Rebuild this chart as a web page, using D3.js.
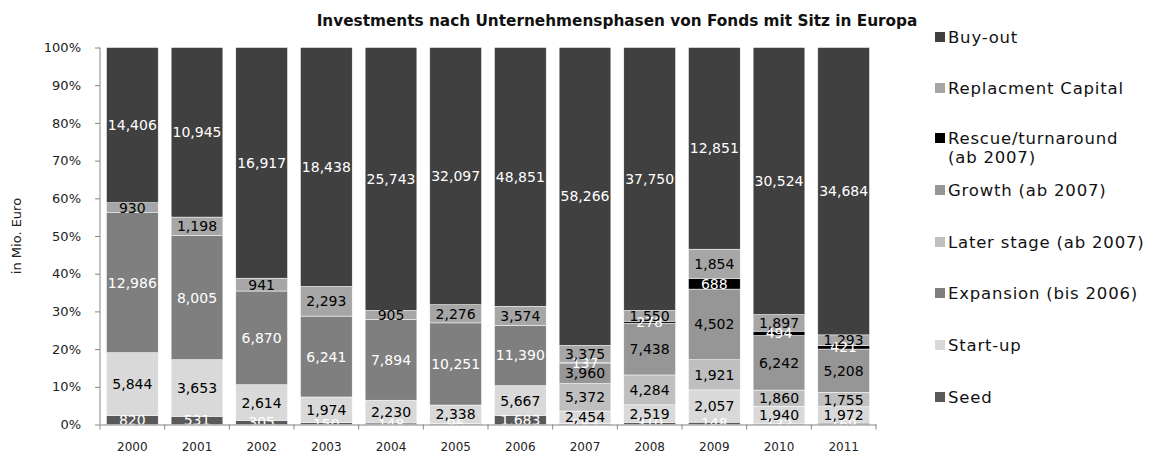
<!DOCTYPE html>
<html>
<head>
<meta charset="utf-8">
<script src="https://cdn.jsdelivr.net/npm/d3@7"></script>
<style>
  body { margin: 0; background: #fff; }
  svg text { font-family: "DejaVu Sans", sans-serif; }
</style>
</head>
<body>
<div id="chart"></div>
<script>
  // data (Mio. Euro)
  const years = ["2000","2001","2002","2003","2004","2005","2006","2007","2008","2009","2010","2011"];
  const seed        = [820, 531, 305, 150, 148, 96, 1683, 183, 310, 148, 132, 169];
  const startUp     = [5844, 3653, 2614, 1974, 2230, 2338, 5667, 2454, 2519, 2057, 1940, 1972];
  const expansion   = [12986, 8005, 6870, 6241, 7894, 10251, 11390, 0, 0, 0, 0, 0];
  const laterStage  = [0, 0, 0, 0, 0, 0, 0, 5372, 4284, 1921, 1860, 1755];
  const growth      = [0, 0, 0, 0, 0, 0, 0, 3960, 7438, 4502, 6242, 5208];
  const rescue      = [0, 0, 0, 0, 0, 0, 0, 137, 278, 688, 494, 421];
  const replacement = [930, 1198, 941, 2293, 905, 2276, 3574, 3375, 1550, 1854, 1897, 1293];
  const buyOut      = [14406, 10945, 16917, 18438, 25743, 32097, 48851, 58266, 37750, 12851, 30524, 34684];
  const yTicks = [0, 0.1, 0.2, 0.3, 0.4, 0.5, 0.6, 0.7, 0.8, 0.9, 1];

  // stack order bottom -> top
  const series = [
    { key: "seed", name: "Seed", values: seed, color: "#595959", text: "#fff" },
    { key: "startUp", name: "Start-up", values: startUp, color: "#d9d9d9", text: "#000" },
    { key: "expansion", name: "Expansion (bis 2006)", values: expansion, color: "#7f7f7f", text: "#fff" },
    { key: "laterStage", name: "Later stage (ab 2007)", values: laterStage, color: "#bfbfbf", text: "#000" },
    { key: "growth", name: "Growth (ab 2007)", values: growth, color: "#969696", text: "#000" },
    { key: "rescue", name: ["Rescue/turnaround", "(ab 2007)"], values: rescue, color: "#000000", text: "#fff" },
    { key: "replacement", name: "Replacment Capital", values: replacement, color: "#a6a6a6", text: "#000" },
    { key: "buyOut", name: "Buy-out", values: buyOut, color: "#404040", text: "#fff" }
  ];

  const width = 1149, height = 466;
  const margin = { left: 100, right: 273, top: 47.5, bottom: 41.5 };

  const svg = d3.select("#chart").append("svg")
    .attr("width", width).attr("height", height);

  // build table for d3.stack
  const table = years.map((y, i) => {
    const row = { year: y };
    series.forEach(s => row[s.key] = s.values[i]);
    return row;
  });
  const stacked = d3.stack()
    .keys(series.map(s => s.key))
    .offset(d3.stackOffsetExpand)(table);

  const x = d3.scaleBand()
    .domain(years)
    .range([margin.left, width - margin.right])
    .paddingInner(0.2)
    .paddingOuter(0.1);
  const y = d3.scaleLinear()
    .domain([0, 1])
    .range([height - margin.bottom, margin.top]);

  // bars
  const layers = svg.append("g").selectAll("g")
    .data(stacked)
    .join("g")
    .attr("fill", (d, i) => series[i].color);
  layers.selectAll("rect")
    .data(d => d)
    .join("rect")
    .attr("x", d => x(d.data.year))
    .attr("y", d => y(d[1]))
    .attr("width", x.bandwidth())
    .attr("height", d => y(d[0]) - y(d[1]))
    .attr("stroke", "#fff")
    .attr("stroke-width", 0.5);

  // data labels
  const fmt = d3.format(",");
  stacked.forEach((layer, i) => {
    const s = series[i];
    svg.append("g")
      .selectAll("text")
      .data(layer.filter((d, j) => s.values[j] > 0))
      .join("text")
      .attr("x", d => x(d.data.year) + x.bandwidth() / 2)
      .attr("y", d => y((d[0] + d[1]) / 2))
      .attr("dy", "0.36em")
      .attr("text-anchor", "middle")
      .attr("font-size", 14)
      .attr("fill", s.text)
      .text(d => fmt(d.data[s.key]));
  });

  // axes
  const axisColor = "#868686";
  const yAxis = svg.append("g")
    .attr("transform", `translate(${margin.left},0)`)
    .call(d3.axisLeft(y).tickValues(yTicks).tickFormat(d3.format(".0%")).tickSize(5).tickSizeOuter(0));
  yAxis.selectAll("line, path").attr("stroke", axisColor);
  yAxis.selectAll("text").attr("font-size", 13).attr("fill", "#222").attr("x", -19);
  yAxis.select(".domain").remove();
  svg.append("line")
    .attr("x1", margin.left).attr("x2", margin.left)
    .attr("y1", y(1)).attr("y2", y(0))
    .attr("stroke", axisColor);

  const xAxis = svg.append("g")
    .attr("transform", `translate(0,${y(0)})`)
    .call(d3.axisBottom(x).tickSize(0).tickSizeOuter(0));
  xAxis.select(".domain").attr("stroke", axisColor);
  xAxis.selectAll("text").attr("font-size", 12).attr("fill", "#222").attr("dy", "1.95em");
  // tick marks between categories
  const step = x.step();
  svg.append("g").selectAll("line")
    .data(d3.range(years.length + 1))
    .join("line")
    .attr("x1", i => margin.left + i * step)
    .attr("x2", i => margin.left + i * step)
    .attr("y1", y(0)).attr("y2", y(0) + 5)
    .attr("stroke", axisColor);

  // y axis title
  svg.append("text")
    .attr("transform", `translate(21,${(y(0) + y(1)) / 2}) rotate(-90)`)
    .attr("text-anchor", "middle")
    .attr("font-size", 13)
    .attr("fill", "#222")
    .text("in Mio. Euro");

  // chart title
  svg.append("text")
    .attr("x", 617).attr("y", 26)
    .attr("text-anchor", "middle")
    .attr("font-size", 15.3)
    .attr("font-weight", "bold")
    .attr("fill", "#111")
    .text("Investments nach Unternehmensphasen von Fonds mit Sitz in Europa");

  // legend, top to bottom is reversed stack order
  const legendY = [37, 88, 138, 190, 242, 293, 345, 397];
  const legend = svg.append("g");
  series.slice().reverse().forEach((s, i) => {
    const g = legend.append("g").attr("transform", `translate(935,${legendY[i]})`);
    g.append("rect").attr("x", 0).attr("y", -5).attr("width", 10).attr("height", 10).attr("fill", s.color);
    const names = Array.isArray(s.name) ? s.name : [s.name];
    names.forEach((n, k) => {
      g.append("text")
        .attr("x", 13).attr("y", k * 19)
        .attr("dy", "0.36em")
        .attr("font-size", 16.5)
        .attr("letter-spacing", 0.8)
        .attr("fill", "#111")
        .text(n);
    });
  });
</script>
</body>
</html>
